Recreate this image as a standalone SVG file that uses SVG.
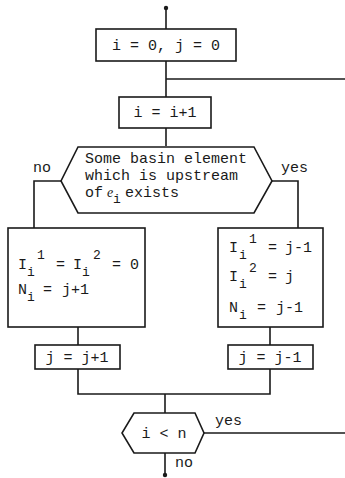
<svg xmlns="http://www.w3.org/2000/svg" width="345" height="478" viewBox="0 0 345 478">
<style>
.s{fill:none;stroke:#1a1a1a;stroke-width:1.6}
.b{fill:#fff;stroke:#1a1a1a;stroke-width:1.6}
text{font-family:"Liberation Mono","Courier New",monospace;font-size:15px;fill:#1a1a1a}
.sm{font-size:13px}
.it{font-family:"Liberation Serif",serif;font-style:italic;font-size:14px}
</style>
<rect width="345" height="478" fill="#fff"/>
<g id="connectors">
<circle cx="166" cy="8" r="2.2" fill="#1a1a1a"/>
<path class="s" d="M166 8V29"/>
<path class="s" d="M166 61V97"/>
<path class="s" d="M166 79H345"/>
<path class="s" d="M166 128V146"/>
<path class="s" d="M61 181H34V228"/>
<path class="s" d="M272 181H298V228"/>
<path class="s" d="M78 327V345"/>
<path class="s" d="M270 327V345"/>
<path class="s" d="M78 369V394H270V369"/>
<path class="s" d="M165 394V413"/>
<path class="s" d="M204 433H345"/>
<path class="s" d="M165 453V475"/>
<circle cx="165" cy="475" r="2.2" fill="#1a1a1a"/>
<text x="33" y="172">no</text>
<text x="281" y="172">yes</text>
<text x="215" y="425">yes</text>
<text x="175" y="467">no</text>
</g>
<g id="init">
<rect class="b" x="96" y="29" width="140" height="32"/>
<text x="166" y="50" text-anchor="middle">i = 0, j = 0</text>
</g>
<g id="inc">
<rect class="b" x="119" y="97" width="92" height="31"/>
<text x="165" y="117" text-anchor="middle">i = i+1</text>
</g>
<g id="decision">
<polygon class="b" points="78,147 254,147 272,181 254,213 78,213 61,181"/>
<text x="85" y="163">Some basin element</text>
<text x="85" y="180">which is upstream</text>
<text x="85" y="197">of</text>
<text class="it" x="107" y="197">e</text>
<text class="sm" x="113" y="203">i</text>
<text x="125" y="197">exists</text>
</g>
<g id="no-branch">
<rect class="b" x="8" y="228" width="137" height="99"/>
<text x="18" y="269">I</text>
<text class="sm" x="27" y="276">i</text>
<text class="sm" x="37" y="259">1</text>
<text x="56" y="269">=</text>
<text x="73" y="269">I</text>
<text class="sm" x="82" y="276">i</text>
<text class="sm" x="93" y="259">2</text>
<text x="112" y="269">=</text>
<text x="130" y="269">0</text>
<text x="18" y="294">N</text>
<text class="sm" x="27" y="301">i</text>
<text x="43" y="294">=</text>
<text x="62" y="294">j+1</text>
</g>
<g id="yes-branch">
<rect class="b" x="218" y="228" width="105" height="99"/>
<text x="229" y="252">I</text>
<text class="sm" x="239" y="259">i</text>
<text class="sm" x="249" y="243">1</text>
<text x="268" y="252">=</text>
<text x="285" y="252">j-1</text>
<text x="229" y="281">I</text>
<text class="sm" x="239" y="288">i</text>
<text class="sm" x="249" y="272">2</text>
<text x="268" y="281">=</text>
<text x="285" y="281">j</text>
<text x="229" y="312">N</text>
<text class="sm" x="239" y="319">i</text>
<text x="257" y="312">=</text>
<text x="276" y="312">j-1</text>
</g>
<g id="jinc">
<rect class="b" x="35" y="345" width="85" height="24"/>
<text x="77" y="362" text-anchor="middle">j = j+1</text>
</g>
<g id="jdec">
<rect class="b" x="228" y="345" width="85" height="24"/>
<text x="270" y="362" text-anchor="middle">j = j-1</text>
</g>
<g id="test">
<polygon class="b" points="134,413 195,413 204,433 195,453 134,453 122,433"/>
<text x="164" y="438" text-anchor="middle">i &lt; n</text>
</g>
</svg>
